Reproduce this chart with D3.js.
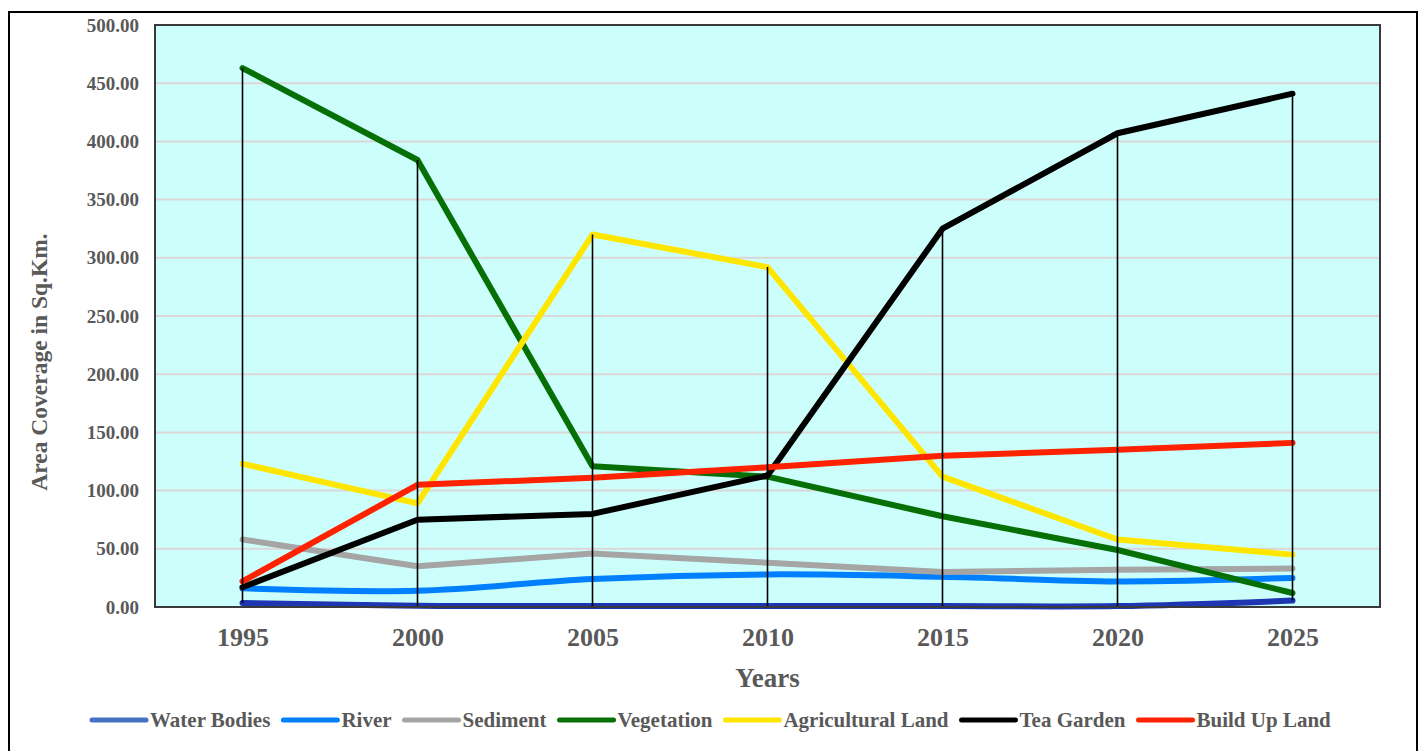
<!DOCTYPE html>
<html lang="en">
  <head>
    <meta charset="utf-8" />
    <title>Area Coverage</title>
    <script src="https://d3js.org/d3.v7.min.js"></script>
    <style>
      body { margin: 0; background: #fff; }
      text { font-family: "Liberation Serif", "Times New Roman", serif; font-weight: bold; fill: #595959; }
    </style>
  </head>
  <body>
    <script>
      // data
      var years = ["1995", "2000", "2005", "2010", "2015", "2020", "2025"];
      var waterBodies = [3.5, 1.0, 0.8, 0.8, 0.8, 0.8, 5.5];
      var river = [16, 14, 24, 28, 26, 22, 25];
      var sediment = [58, 35, 46, 38, 30, 32, 33];
      var vegetation = [463, 384, 121, 112, 78, 49, 12];
      var agricultural = [123, 89, 320, 292, 112, 58, 45];
      var teaGarden = [17, 75, 80, 113, 325, 407, 441];
      var buildUp = [22, 105, 111, 120, 130, 135, 141];
      var yTicks = [0, 50, 100, 150, 200, 250, 300, 350, 400, 450, 500];

      var series = [
        { name: "Water Bodies", values: waterBodies, color: "#1f36b3", legend: "#4472c4", smooth: true },
        { name: "River", values: river, color: "#0080ff", legend: "#0080ff", smooth: true },
        { name: "Sediment", values: sediment, color: "#a5a5a5", legend: "#a5a5a5", smooth: false },
        { name: "Vegetation", values: vegetation, color: "#067006", legend: "#067006", smooth: false },
        { name: "Agricultural Land", values: agricultural, color: "#ffe600", legend: "#ffe600", smooth: false },
        { name: "Tea Garden", values: teaGarden, color: "#000000", legend: "#000000", smooth: false },
        { name: "Build Up Land", values: buildUp, color: "#ff2200", legend: "#ff2200", smooth: false }
      ];

      var W = 1424, H = 751;
      var margin = { top: 25, right: 44, bottom: 144, left: 155 };
      var width = W - margin.left - margin.right,
        height = H - margin.top - margin.bottom;

      var svg = d3.select("body").append("svg")
        .attr("width", W).attr("height", H);

      // outer frame
      svg.append("rect")
        .attr("x", 9).attr("y", 12)
        .attr("width", 1408).attr("height", 760)
        .attr("fill", "none").attr("stroke", "#000").attr("stroke-width", 2);

      var g = svg.append("g")
        .attr("transform", "translate(" + margin.left + "," + margin.top + ")");

      var x = d3.scalePoint().domain(years).range([0, width]).padding(0.5);
      var y = d3.scaleLinear().domain([0, 500]).range([height, 0]);

      g.append("rect")
        .attr("width", width).attr("height", height)
        .attr("fill", "#ccfffb");

      // gridlines
      g.selectAll(".grid").data(yTicks.slice(1, -1)).enter().append("line")
        .attr("x1", 0).attr("x2", width)
        .attr("y1", function (d) { return y(d); })
        .attr("y2", function (d) { return y(d); })
        .attr("stroke", "#dcd6d6").attr("stroke-width", 2);

      // y axis labels
      var yAxis = d3.axisLeft(y).tickValues(yTicks).tickSize(0).tickPadding(16)
        .tickFormat(d3.format(".2f"));
      var ya = g.append("g").call(yAxis);
      ya.select(".domain").remove();
      ya.selectAll("text").style("font-size", "19px");

      // x axis labels
      var xAxis = d3.axisBottom(x).tickSize(0).tickPadding(21);
      var xa = g.append("g").attr("transform", "translate(0," + height + ")").call(xAxis);
      xa.select(".domain").remove();
      xa.selectAll("text").style("font-size", "26px");

      // series lines
      series.forEach(function (s) {
        var line = d3.line()
          .x(function (d, i) { return x(years[i]); })
          .y(function (d) { return y(d); })
          .curve(s.smooth ? d3.curveCatmullRom : d3.curveLinear);
        g.append("path")
          .datum(s.values)
          .attr("d", line)
          .attr("fill", "none")
          .attr("stroke", s.color)
          .attr("stroke-width", 6)
          .attr("stroke-linejoin", "round")
          .attr("stroke-linecap", "round");
      });

      // high-low lines
      years.forEach(function (yr, i) {
        var vals = series.map(function (s) { return s.values[i]; });
        g.append("line")
          .attr("x1", x(yr)).attr("x2", x(yr))
          .attr("y1", y(d3.max(vals))).attr("y2", y(d3.min(vals)))
          .attr("stroke", "#000").attr("stroke-width", 1.6);
      });

      // plot border
      g.append("rect")
        .attr("width", width).attr("height", height)
        .attr("fill", "none").attr("stroke", "#3a3a3a").attr("stroke-width", 2);

      // titles
      svg.append("text")
        .attr("x", margin.left + width / 2).attr("y", 687)
        .attr("text-anchor", "middle")
        .style("font-size", "27px")
        .text("Years");

      svg.append("text")
        .attr("transform", "translate(47,362) rotate(-90)")
        .attr("text-anchor", "middle")
        .style("font-size", "23.5px")
        .text("Area Coverage in Sq.Km.");

      // legend
      var legend = svg.append("g").attr("transform", "translate(0,720)");
      var lx = 90;
      series.forEach(function (s) {
        var item = legend.append("g").attr("transform", "translate(" + lx + ",0)");
        item.append("line")
          .attr("x1", 2).attr("x2", 56)
          .attr("stroke", s.legend).attr("stroke-width", 5)
          .attr("stroke-linecap", "round");
        var t = item.append("text")
          .attr("x", 60).attr("dy", "0.35em")
          .style("font-size", "21px")
          .text(s.name);
        lx += 60 + t.node().getComputedTextLength() + 11;
      });
    </script>
  </body>
</html>
